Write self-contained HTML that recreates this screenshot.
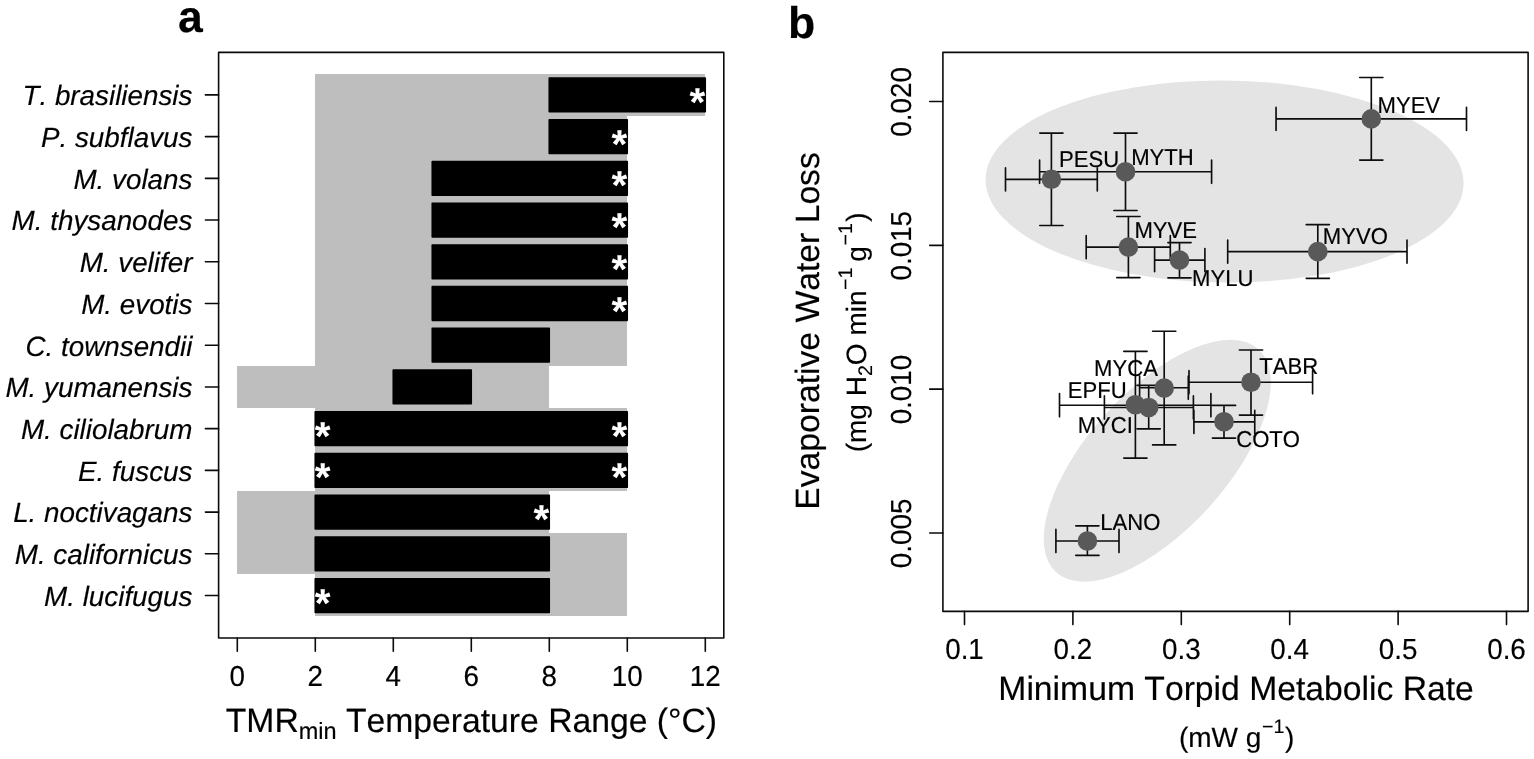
<!DOCTYPE html>
<html lang="en">
<head>
<meta charset="utf-8">
<title>Figure: TMRmin temperature range and evaporative water loss</title>
<style>
html,body{margin:0;padding:0;background:#fff;}
body{width:1534px;height:759px;overflow:hidden;}
svg{display:block;font-family:"Liberation Sans", Arial, Helvetica, sans-serif;font-kerning:none;text-rendering:geometricPrecision;}
text{stroke:#000;stroke-width:0.16px;}
.st text{stroke:none;}
</style>
</head>
<body>
<svg width="1534" height="759" viewBox="0 0 1534 759">
<rect width="1534" height="759" fill="#fff"/>
<text x="178" y="32" font-size="44.5" font-weight="bold">a</text>
<text x="788" y="37.6" font-size="44.5" font-weight="bold">b</text>
<g fill="#bebebe" shape-rendering="crispEdges">
<rect x="315" y="74" width="390" height="42"/>
<rect x="315" y="116" width="312" height="41"/>
<rect x="315" y="157" width="312" height="42"/>
<rect x="315" y="199" width="312" height="42"/>
<rect x="315" y="241" width="312" height="41"/>
<rect x="315" y="282" width="312" height="42"/>
<rect x="315" y="324" width="312" height="42"/>
<rect x="237" y="366" width="312" height="42"/>
<rect x="315" y="408" width="312" height="41"/>
<rect x="315" y="449" width="312" height="42"/>
<rect x="237" y="491" width="312" height="42"/>
<rect x="237" y="533" width="390" height="41"/>
<rect x="315" y="574" width="312" height="42"/>
</g>
<g fill="#000" stroke="#000" stroke-width="1.6" stroke-linejoin="round">
<rect x="549.25" y="78.05" width="156.00" height="33.70"/>
<rect x="549.25" y="119.77" width="78.00" height="33.70"/>
<rect x="432.25" y="161.49" width="195.00" height="33.70"/>
<rect x="432.25" y="203.21" width="195.00" height="33.70"/>
<rect x="432.25" y="244.93" width="195.00" height="33.70"/>
<rect x="432.25" y="286.65" width="195.00" height="33.70"/>
<rect x="432.25" y="328.37" width="117.00" height="33.70"/>
<rect x="393.25" y="370.09" width="78.00" height="33.70"/>
<rect x="315.25" y="411.81" width="312.00" height="33.70"/>
<rect x="315.25" y="453.53" width="312.00" height="33.70"/>
<rect x="315.25" y="495.25" width="234.00" height="33.70"/>
<rect x="315.25" y="536.97" width="234.00" height="33.70"/>
<rect x="315.25" y="578.69" width="234.00" height="33.70"/>
</g>
<g class="st" fill="#fff" font-size="40.5" font-weight="bold">
<text x="705.20" y="115.90" text-anchor="end">*</text>
<text x="627.20" y="157.62" text-anchor="end">*</text>
<text x="627.20" y="199.34" text-anchor="end">*</text>
<text x="627.20" y="241.06" text-anchor="end">*</text>
<text x="627.20" y="282.78" text-anchor="end">*</text>
<text x="627.20" y="324.50" text-anchor="end">*</text>
<text x="627.20" y="449.66" text-anchor="end">*</text>
<text x="314.70" y="449.66">*</text>
<text x="627.20" y="491.38" text-anchor="end">*</text>
<text x="314.70" y="491.38">*</text>
<text x="549.20" y="533.10" text-anchor="end">*</text>
<text x="314.70" y="616.54">*</text>
</g>
<g fill="none" stroke="#0a0a0a" stroke-width="1.6" stroke-linecap="round" stroke-linejoin="round">
<rect x="218.6" y="52.4" width="505.19999999999993" height="585.6"/>
<path d="M205.40 94.90H218.6M205.40 136.62H218.6M205.40 178.34H218.6M205.40 220.06H218.6M205.40 261.78H218.6M205.40 303.50H218.6M205.40 345.22H218.6M205.40 386.94H218.6M205.40 428.66H218.6M205.40 470.38H218.6M205.40 512.10H218.6M205.40 553.82H218.6M205.40 595.54H218.6M237.30 638.0v13.2M315.30 638.0v13.2M393.30 638.0v13.2M471.30 638.0v13.2M549.30 638.0v13.2M627.30 638.0v13.2M705.30 638.0v13.2"/>
</g>
<g font-size="27.8" font-style="italic" text-anchor="end">
<text x="192.4" y="105.20">T. brasiliensis</text>
<text x="192.4" y="146.92">P. subflavus</text>
<text x="192.4" y="188.64">M. volans</text>
<text x="192.4" y="230.36">M. thysanodes</text>
<text x="192.4" y="272.08">M. velifer</text>
<text x="192.4" y="313.80">M. evotis</text>
<text x="192.4" y="355.52">C. townsendii</text>
<text x="192.4" y="397.24">M. yumanensis</text>
<text x="192.4" y="438.96">M. ciliolabrum</text>
<text x="192.4" y="480.68">E. fuscus</text>
<text x="192.4" y="522.40">L. noctivagans</text>
<text x="192.4" y="564.12">M. californicus</text>
<text x="192.4" y="605.84">M. lucifugus</text>
</g>
<g font-size="27.8" text-anchor="middle">
<text transform="translate(237.30 686) scale(1 1.04)">0</text>
<text transform="translate(315.30 686) scale(1 1.04)">2</text>
<text transform="translate(393.30 686) scale(1 1.04)">4</text>
<text transform="translate(471.30 686) scale(1 1.04)">6</text>
<text transform="translate(549.30 686) scale(1 1.04)">8</text>
<text transform="translate(627.30 686) scale(1 1.04)">10</text>
<text transform="translate(705.30 686) scale(1 1.04)">12</text>
</g>
<text x="471.4" y="732.2" font-size="33.7" text-anchor="middle">TMR<tspan font-size="23.5" dy="6.8">min</tspan><tspan dy="-6.8"> Temperature Range (°C)</tspan></text>
<g fill="#e4e4e4">
<ellipse cx="1224.6" cy="181.5" rx="239.0" ry="101.0" transform="rotate(0.5 1224.6 181.5)"/>
<ellipse cx="1157.3" cy="460.7" rx="150.6" ry="69.6" transform="rotate(-47.8 1157.3 460.7)"/>
</g>
<path d="M1276.05 118.9H1466.5M1276.05 107.30000000000001v23.2M1466.5 107.30000000000001v23.2M1371.3 77.5V160.1M1359.7 77.5h23.2M1359.7 160.1h23.2M1005.5 179.3H1097.3M1005.5 167.70000000000002v23.2M1097.3 167.70000000000002v23.2M1051.4 133.1V225.5M1039.8000000000002 133.1h23.2M1039.8000000000002 225.5h23.2M1039.6 171.75H1211.6M1039.6 160.15v23.2M1211.6 160.15v23.2M1125.5 133.1V210.5M1113.9 133.1h23.2M1113.9 210.5h23.2M1086.2 247.1H1170.3M1086.2 235.5v23.2M1170.3 235.5v23.2M1128.4 216.5V277.6M1116.8000000000002 216.5h23.2M1116.8000000000002 277.6h23.2M1154.6 260.1H1204.9M1154.6 248.50000000000003v23.2M1204.9 248.50000000000003v23.2M1179.5 242.6V277.8M1167.9 242.6h23.2M1167.9 277.8h23.2M1227.7 251.6H1407.0M1227.7 240.0v23.2M1407.0 240.0v23.2M1317.8 224.6V278.3M1306.2 224.6h23.2M1306.2 278.3h23.2M1139.6 387.7H1188.3M1139.6 376.09999999999997v23.2M1188.3 376.09999999999997v23.2M1164.2 331.2V444.9M1152.6000000000001 331.2h23.2M1152.6000000000001 444.9h23.2M1189.0 382.25H1312.6M1189.0 370.65v23.2M1312.6 370.65v23.2M1251.0 350.0V415.1M1239.4 350.0h23.2M1239.4 415.1h23.2M1059.5 405.2H1210.9M1059.5 393.59999999999997v23.2M1210.9 393.59999999999997v23.2M1135.4 351.4V458.05M1123.8000000000002 351.4h23.2M1123.8000000000002 458.05h23.2M1104.4 407.5H1193.4M1104.4 395.9v23.2M1193.4 395.9v23.2M1148.7 385.3V428.8M1137.1000000000001 385.3h23.2M1137.1000000000001 428.8h23.2M1193.9 421.8H1254.75M1193.9 410.2v23.2M1254.75 410.2v23.2M1224.0 405.4V438.1M1212.4 405.4h23.2M1212.4 438.1h23.2M1055.9 541.0H1119.0M1055.9 529.4v23.2M1119.0 529.4v23.2M1087.4 525.85V555.4M1075.8000000000002 525.85h23.2M1075.8000000000002 555.4h23.2" fill="none" stroke="#0d0d0d" stroke-width="1.65" stroke-linecap="round"/>
<g fill="#595959">
<circle cx="1371.3" cy="118.9" r="9.8"/>
<circle cx="1051.4" cy="179.3" r="9.8"/>
<circle cx="1125.5" cy="171.75" r="9.8"/>
<circle cx="1128.4" cy="247.1" r="9.8"/>
<circle cx="1179.5" cy="260.1" r="9.8"/>
<circle cx="1317.8" cy="251.6" r="9.8"/>
<circle cx="1164.2" cy="388.1" r="9.8"/>
<circle cx="1251.0" cy="382.25" r="9.8"/>
<circle cx="1135.4" cy="404.8" r="9.8"/>
<circle cx="1148.7" cy="407.5" r="9.8"/>
<circle cx="1224.0" cy="421.8" r="9.8"/>
<circle cx="1087.4" cy="541.0" r="9.8"/>
</g>
<g font-size="22.1" fill="#000">
<text transform="translate(1377.49 113.1) scale(1 1.04)">MYEV</text>
<text transform="translate(1059.09 167.1) scale(1 1.04)">PESU</text>
<text transform="translate(1131.19 165.4) scale(1 1.04)">MYTH</text>
<text transform="translate(1134.39 237.7) scale(1 1.04)">MYVE</text>
<text transform="translate(1191.99 285.6) scale(1 1.04)">MYLU</text>
<text transform="translate(1322.79 244.4) scale(1 1.04)">MYVO</text>
<text transform="translate(1094.09 375.9) scale(1 1.04)">MYCA</text>
<text transform="translate(1259.30 373.7) scale(1 1.04)">TABR</text>
<text transform="translate(1067.69 398.4) scale(1 1.04)">EPFU</text>
<text transform="translate(1077.69 432.8) scale(1 1.04)">MYCI</text>
<text transform="translate(1236.18 447.0) scale(1 1.04)">COTO</text>
<text transform="translate(1100.29 530.1) scale(1 1.04)">LANO</text>
</g>
<g fill="none" stroke="#0a0a0a" stroke-width="1.6" stroke-linecap="round" stroke-linejoin="round">
<rect x="942.9" y="52.4" width="585.1999999999999" height="559.0"/>
<path d="M964.50 611.4v13.2M1072.90 611.4v13.2M1181.30 611.4v13.2M1289.70 611.4v13.2M1398.10 611.4v13.2M1506.50 611.4v13.2M929.6999999999999 533.00h13.2M929.6999999999999 389.16h13.2M929.6999999999999 245.33h13.2M929.6999999999999 101.50h13.2"/>
</g>
<g font-size="27.8" text-anchor="middle">
<text transform="translate(964.50 659.4) scale(1 1.04)">0.1</text>
<text transform="translate(1072.90 659.4) scale(1 1.04)">0.2</text>
<text transform="translate(1181.30 659.4) scale(1 1.04)">0.3</text>
<text transform="translate(1289.70 659.4) scale(1 1.04)">0.4</text>
<text transform="translate(1398.10 659.4) scale(1 1.04)">0.5</text>
<text transform="translate(1506.50 659.4) scale(1 1.04)">0.6</text>
<text transform="translate(911.3 533.40) rotate(-90) scale(1 1.04)">0.005</text>
<text transform="translate(911.3 389.56) rotate(-90) scale(1 1.04)">0.010</text>
<text transform="translate(911.3 245.73) rotate(-90) scale(1 1.04)">0.015</text>
<text transform="translate(911.3 101.90) rotate(-90) scale(1 1.04)">0.020</text>
</g>
<text x="1236.1" y="699.6" font-size="33.7" text-anchor="middle">Minimum Torpid Metabolic Rate</text>
<text x="1236.6" y="746.7" font-size="28.0" text-anchor="middle">(mW g<tspan font-size="19.6" dy="-13.9" dx="0.6">−1</tspan><tspan dy="13.9" dx="0.6">)</tspan></text>
<text transform="translate(818.8 331) rotate(-90)" font-size="33.7" text-anchor="middle">Evaporative Water Loss</text>
<text transform="translate(866.3 332.3) rotate(-90)" font-size="28.0" text-anchor="middle">(mg H<tspan font-size="19.6" dy="6">2</tspan><tspan dy="-6">O min</tspan><tspan font-size="19.6" dy="-13.9" dx="0.6">−1</tspan><tspan dy="13.9" dx="-1.9"> g</tspan><tspan font-size="19.6" dy="-13.9" dx="0.6">−1</tspan><tspan dy="13.9" dx="1.5">)</tspan></text>
</svg>
</body>
</html>
